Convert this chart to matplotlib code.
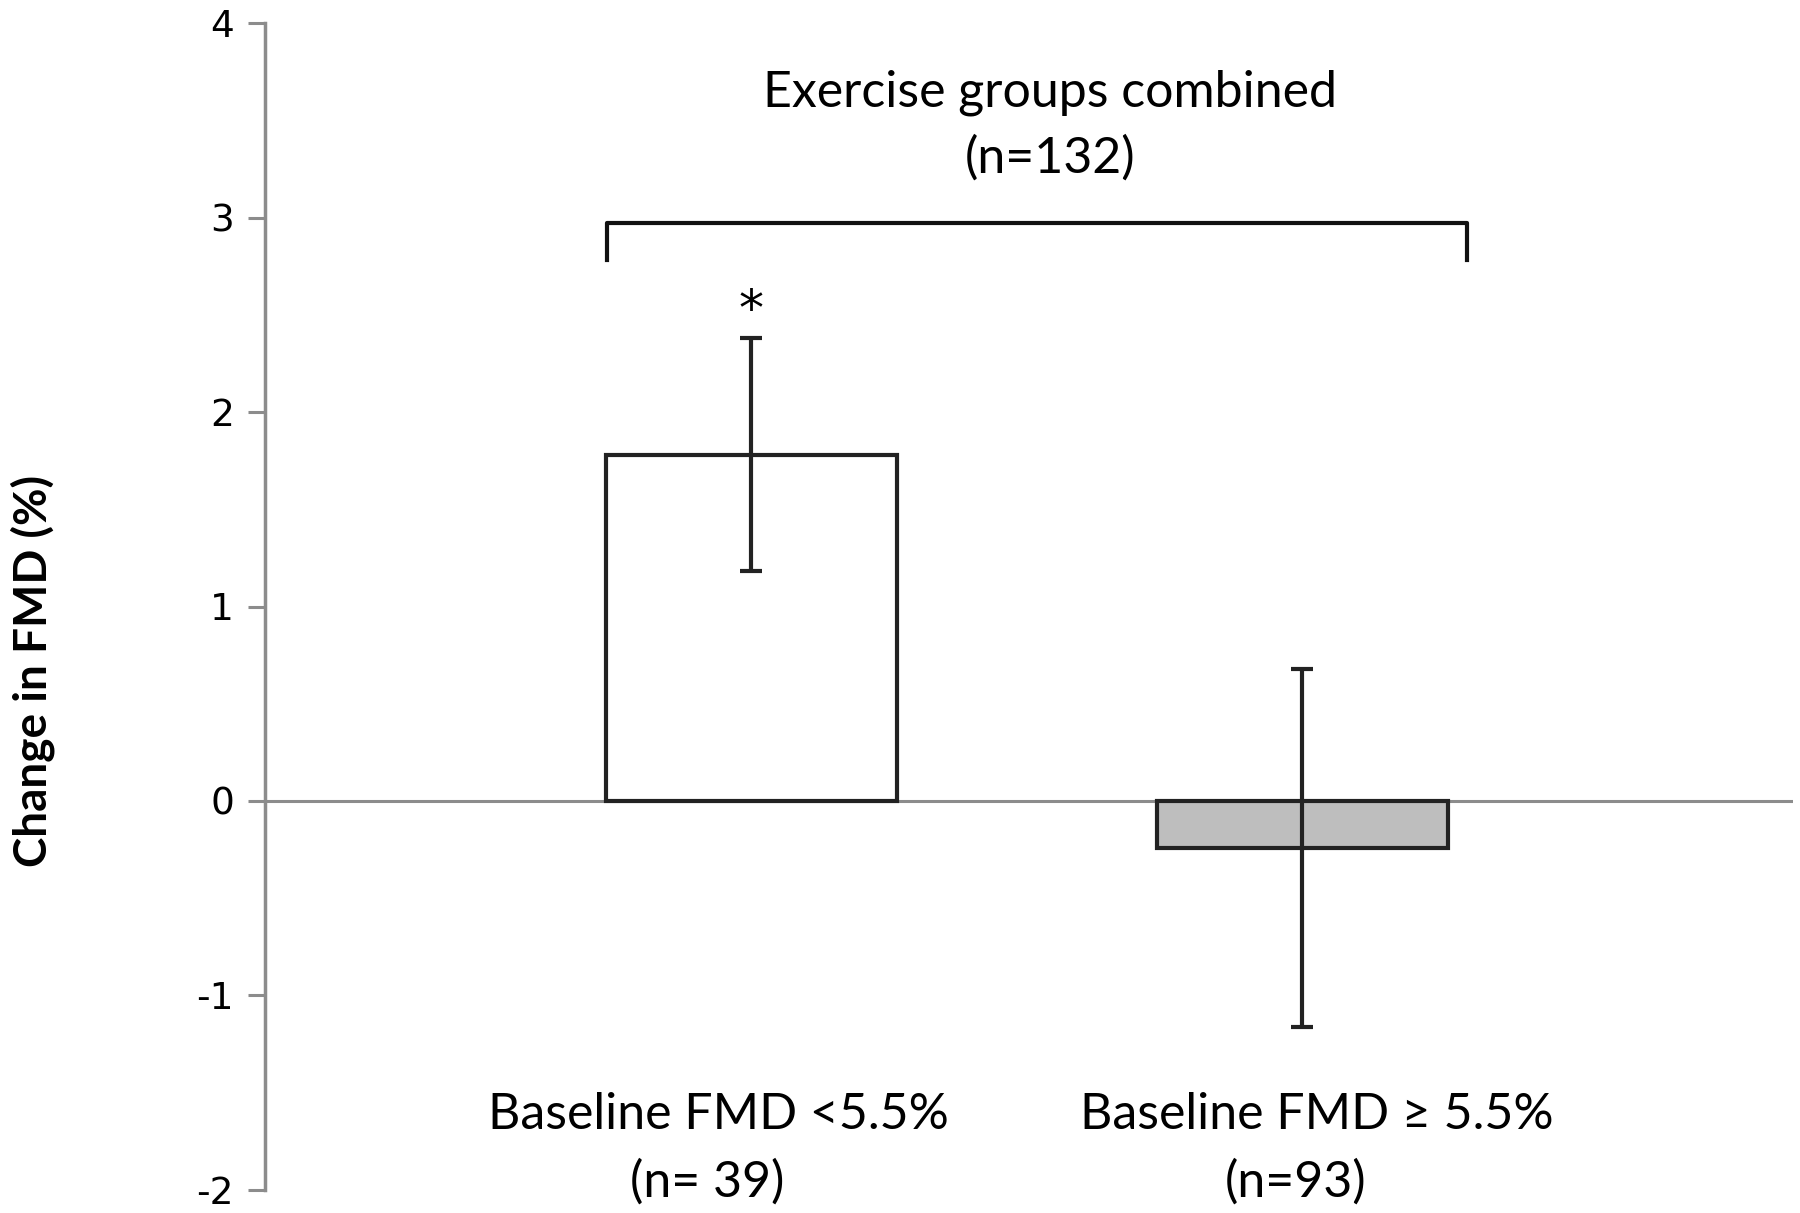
import matplotlib
matplotlib.use("Agg")
import matplotlib.pyplot as plt

plt.rcParams["axes.unicode_minus"] = False

# ------------------------------------------------------------
# data
# ------------------------------------------------------------
group_names = ["Baseline FMD <5.5%", "Baseline FMD \u2265 5.5%"]
group_ns    = ["(n= 39)", "(n=93)"]
means       = [1.78, -0.24]
errors      = [0.60, 0.92]
bar_colors  = ["#ffffff", "#bebebe"]
y_ticks     = [-2, -1, 0, 1, 2, 3, 4]

bracket_title = "Exercise groups combined\n(n=132)"
sig_mark      = "*"

TEXT_FONT = ["Lato", "DejaVu Sans"]
EDGE      = "#222222"
AXIS_GREY = "#8c8c8c"

fig = plt.figure(figsize=(18, 12.13), dpi=100)
ax = fig.add_axes([0.147, 0.019, 0.849, 0.962])

x = list(range(len(group_names)))
ax.bar(x, means, width=0.528, color=bar_colors, edgecolor=EDGE,
       linewidth=3, zorder=2)
ax.errorbar(x, means, yerr=errors, fmt="none", ecolor=EDGE,
            elinewidth=3, capsize=8, capthick=3, zorder=3)
ax.axhline(0, color=AXIS_GREY, linewidth=2.2, zorder=1)

ax.set_xlim(-0.883, 1.89)
ax.set_ylim(-2, 4)
ax.set_yticks(y_ticks)
ax.set_xticks([])
ax.tick_params(axis="y", direction="out", length=12, width=2.2,
               color=AXIS_GREY, labelsize=27, pad=10)
for lab in ax.get_yticklabels():
    lab.set_family("DejaVu Sans")

for side in ["top", "right", "bottom"]:
    ax.spines[side].set_visible(False)
ax.spines["left"].set_color(AXIS_GREY)
ax.spines["left"].set_linewidth(2.5)

ax.set_ylabel("Change in FMD (%)", fontsize=33, fontweight="bold",
              family=TEXT_FONT)
ax.yaxis.set_label_coords(-0.137, 0.445)

# group labels under the bars (two lines, each centred on its own)
name_x = [-0.06, 1.027]
n_x    = [-0.08, 0.987]
for xi, lab in zip(name_x, group_names):
    ax.text(xi, -1.615, lab, ha="center", va="center", fontsize=36,
            family=TEXT_FONT)
for xi, lab in zip(n_x, group_ns):
    ax.text(xi, -1.96, lab, ha="center", va="center", fontsize=36,
            family=TEXT_FONT)

# bracket over both bars
bx0, bx1, by_top, by_end = -0.261, 1.299, 2.97, 2.78
ax.plot([bx0, bx0, bx1, bx1], [by_end, by_top, by_top, by_end],
        color="#111111", linewidth=3, solid_joinstyle="round", zorder=3)
ax.text(0.542, 3.475, bracket_title, ha="center",
        va="center", fontsize=36, family=TEXT_FONT, linespacing=1.5)

ax.text(0, 2.52, sig_mark, ha="center", va="center", fontsize=36,
        family="DejaVu Sans")

fig.savefig("out.png", dpi=100)
